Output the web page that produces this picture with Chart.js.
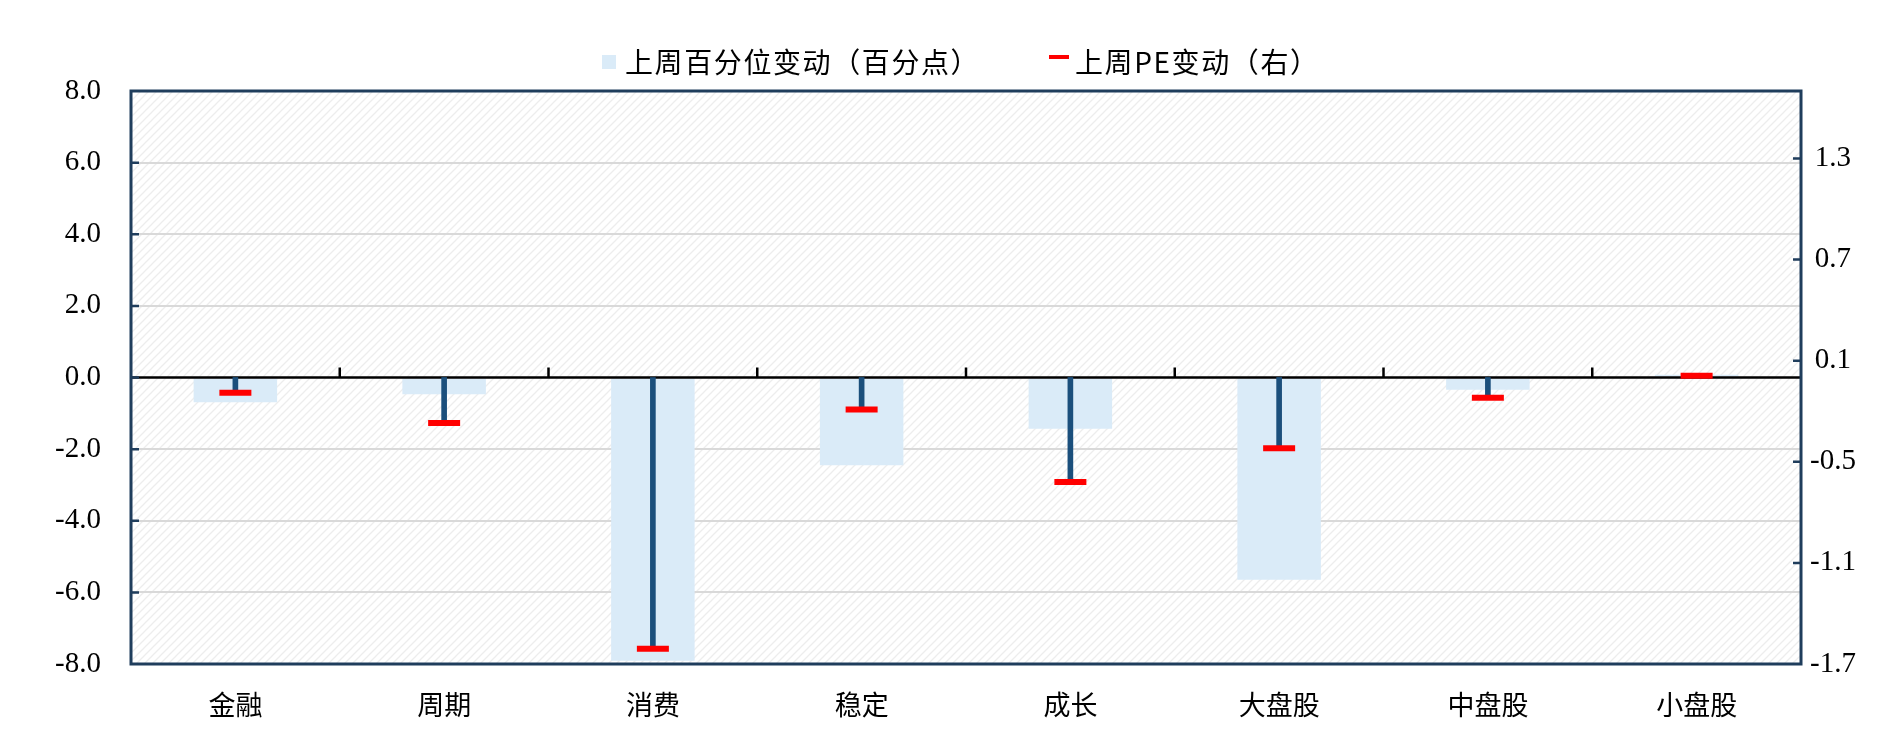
<!DOCTYPE html>
<html>
<head>
<meta charset="utf-8">
<script src="https://cdn.jsdelivr.net/npm/chart.js@4.4.1/dist/chart.umd.min.js"></script>
<style>
html,body{margin:0;padding:0;background:#fff;}
#wrap{position:relative;width:1885px;height:739px;overflow:hidden;}
#c{position:absolute;left:0;top:0;}
.li{position:absolute;top:46px;line-height:30px;height:30px;white-space:nowrap;font-family:'Noto Sans CJK SC',sans-serif;font-size:28px;color:#000;letter-spacing:1.6px;}
.sw{position:absolute;}
</style>
</head>
<body>
<div id="wrap">
<canvas id="c" width="1885" height="739"></canvas>
<div id="legend"></div>
</div>
<script>
// ---- data ----
const categories = ['金融', '周期', '消费', '稳定', '成长', '大盘股', '中盘股', '小盘股'];
const pctChange = [-0.69, -0.47, -7.91, -2.45, -1.43, -5.65, -0.34, 0.08];   // 上周百分位变动（百分点）, left axis
const peChange  = [-0.09, -0.27, -1.61, -0.19, -0.62, -0.42, -0.12, 0.01];   // 上周PE变动（右）, right axis
const leftTicks  = [-8, -6, -4, -2, 0, 2, 4, 6, 8];
const rightTicks = [-1.7, -1.1, -0.5, 0.1, 0.7, 1.3];
const seriesNames = ['上周百分位变动（百分点）', '上周PE变动（右）'];

const BAR_COLOR = '#DAEBF8';
const DROP_COLOR = '#1B4F7C';
const MARK_COLOR = '#FF0000';
const FRAME_COLOR = '#1F3D5C';
const GRID_COLOR = '#D9D9D9';

// ---- HTML legend ----
(function(){
  const lg = document.getElementById('legend');
  const items = [
    {sw: {left:602, top:55, width:14, height:14, background:BAR_COLOR}, textLeft:625, text:seriesNames[0]},
    {sw: {left:1049, top:55, width:20, height:4, background:MARK_COLOR}, textLeft:1075, text:seriesNames[1]}
  ];
  items.forEach(it => {
    const s = document.createElement('div');
    s.className = 'sw';
    Object.entries(it.sw).forEach(([k,v]) => s.style[k] = (typeof v === 'number') ? v + 'px' : v);
    lg.appendChild(s);
    const t = document.createElement('div');
    t.className = 'li';
    t.style.left = it.textLeft + 'px';
    t.textContent = it.text;
    lg.appendChild(t);
  });
})();

// ---- hatch pattern for plot background ----
const hatchTile = (() => {
  const c = document.createElement('canvas');
  c.width = 8; c.height = 8;
  const g = c.getContext('2d');
  g.strokeStyle = '#EDEDED';
  g.lineWidth = 1.3;
  g.beginPath();
  g.moveTo(0, 8); g.lineTo(8, 0);
  g.moveTo(-2, 2); g.lineTo(2, -2);
  g.moveTo(6, 10); g.lineTo(10, 6);
  g.stroke();
  return c;
})();

const decor = {
  id: 'decor',
  beforeDraw(chart) {
    const {ctx, chartArea: a} = chart;
    ctx.save();
    ctx.fillStyle = ctx.createPattern(hatchTile, 'repeat');
    ctx.fillRect(a.left, a.top, a.right - a.left, a.bottom - a.top);
    ctx.restore();
  },
  afterDatasetDraw(chart, args) {
    if (args.index !== 0) return;
    const {ctx, chartArea: a, scales: {x, y}} = chart;
    const y0 = y.getPixelForValue(0);
    ctx.save();
    ctx.strokeStyle = '#000';
    ctx.lineWidth = 2.5;
    ctx.beginPath();
    ctx.moveTo(a.left, y0); ctx.lineTo(a.right, y0);
    ctx.stroke();
    ctx.beginPath();
    for (let i = 0; i < categories.length - 1; i++) {
      const xb = (x.getPixelForValue(i) + x.getPixelForValue(i + 1)) / 2;
      ctx.moveTo(xb, y0); ctx.lineTo(xb, y0 - 10);
    }
    ctx.stroke();
    ctx.restore();
  },
  afterDraw(chart) {
    const {ctx, chartArea: a, scales: {y, y1}} = chart;
    ctx.save();
    ctx.strokeStyle = FRAME_COLOR;
    ctx.lineWidth = 2.5;
    ctx.beginPath();
    leftTicks.forEach(v => {
      if (v === leftTicks[0] || v === leftTicks[leftTicks.length - 1]) return;
      const p = y.getPixelForValue(v);
      ctx.moveTo(a.left, p); ctx.lineTo(a.left + 8, p);
    });
    rightTicks.forEach(v => {
      const p = y1.getPixelForValue(v);
      if (p >= a.bottom - 1) return;
      ctx.moveTo(a.right, p); ctx.lineTo(a.right - 8, p);
    });
    ctx.stroke();
    ctx.lineWidth = 3;
    ctx.strokeRect(a.left, a.top, a.right - a.left, a.bottom - a.top);
    ctx.restore();
  }
};

const numFont = {family: "'Liberation Serif','Times New Roman',serif", size: 29};
const cjkFont = {family: "'Noto Sans CJK SC',sans-serif", size: 27};

new Chart(document.getElementById('c'), {
  data: {
    labels: categories,
    datasets: [
      {
        type: 'bar',
        label: seriesNames[0],
        data: pctChange,
        yAxisID: 'y',
        backgroundColor: BAR_COLOR,
        borderWidth: 0,
        grouped: false,
        barPercentage: 0.4,
        categoryPercentage: 1.0,
        order: 3
      },
      {
        type: 'bar',
        label: 'drop',
        data: peChange.map(v => [0, v]),
        yAxisID: 'y1',
        backgroundColor: DROP_COLOR,
        borderWidth: 0,
        grouped: false,
        barThickness: 5,
        order: 2
      },
      {
        type: 'line',
        label: seriesNames[1],
        data: peChange,
        yAxisID: 'y1',
        showLine: false,
        pointStyle: 'line',
        pointRadius: 16,
        pointHoverRadius: 16,
        pointBorderWidth: 6,
        pointBorderColor: MARK_COLOR,
        pointBackgroundColor: MARK_COLOR,
        borderColor: MARK_COLOR,
        order: 1
      }
    ]
  },
  options: {
    responsive: false,
    devicePixelRatio: 1,
    animation: false,
    layout: {padding: {top: 91, right: 0, left: 0, bottom: 0}},
    plugins: {legend: {display: false}, tooltip: {enabled: false}, title: {display: false}},
    scales: {
      x: {
        type: 'category',
        offset: true,
        grid: {display: false, drawTicks: false},
        border: {display: false},
        ticks: {font: cjkFont, color: '#000', padding: 25, maxRotation: 0, autoSkip: false},
        afterFit(s) { s.height = 739 - 664; }
      },
      y: {
        type: 'linear',
        position: 'left',
        min: leftTicks[0],
        max: leftTicks[leftTicks.length - 1],
        afterBuildTicks(s) { s.ticks = leftTicks.map(v => ({value: v})); },
        grid: {
          drawTicks: false,
          lineWidth: 2,
          color: c => (c.tick && (c.tick.value === 0 || c.tick.value === leftTicks[0] || c.tick.value === leftTicks[leftTicks.length - 1])) ? 'rgba(0,0,0,0)' : GRID_COLOR
        },
        border: {display: false},
        ticks: {font: numFont, color: '#000', padding: 30, callback: v => Number(v).toFixed(1)},
        afterFit(s) { s.width = 131; }
      },
      y1: {
        type: 'linear',
        position: 'right',
        min: -1.7,
        max: 1.7,
        afterBuildTicks(s) { s.ticks = rightTicks.map(v => ({value: v})); },
        grid: {display: false, drawTicks: false},
        border: {display: false},
        ticks: {font: numFont, color: '#000', padding: 9, crossAlign: 'center', callback: v => Number(v).toFixed(1)},
        afterFit(s) { s.width = 1885 - 1801; }
      }
    }
  },
  plugins: [decor]
});
</script>
</body>
</html>
